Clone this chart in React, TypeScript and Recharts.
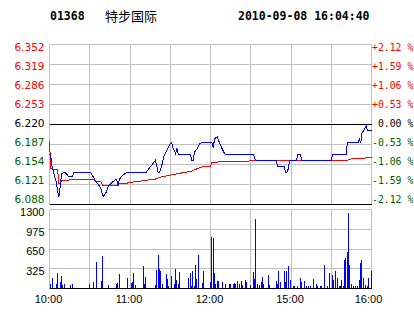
import React from "react";
import { ComposedChart, Line, Bar, XAxis, YAxis, CartesianGrid, ReferenceLine } from "recharts";

// time axis: minutes after 10:00 (lunch break 12:30-14:30 removed)
const TIME_TICKS = [0, 30, 60, 90, 120, 150, 180, 210, 240];
const TIME_LABELS = ["10:00", "", "11:00", "", "12:00", "", "15:00", "", "16:00"];

const PREV_CLOSE = 6.22;
const PRICE_TICKS = [6.088, 6.121, 6.154, 6.187, 6.22, 6.253, 6.286, 6.319, 6.352];
const PCT_LABELS = ["-2.12 %", "-1.59 %", "-1.06 %", "-0.53 %", "\u00a00.00 %", "+0.53 %", "+1.06 %", "+1.59 %", "+2.12 %"];
const VOL_TICKS = [0, 325, 650, 975, 1300];

const PRICE_MIN = [0, 1, 2, 3, 4, 5, 6, 7, 8, 9, 10, 12, 14, 17, 18, 31, 34, 36, 38, 40, 42, 44, 47, 49, 50, 51, 52, 53, 55, 58, 72, 79, 81, 82, 84, 85, 88, 90, 91, 92, 94, 95, 96, 105, 106, 107, 108, 110, 112, 113, 121, 122, 123, 125, 126, 128, 130, 131, 152, 153, 154, 169, 170, 175, 176, 177, 178, 179, 184, 185, 187, 188, 210, 211, 221, 222, 230, 231, 232, 233, 234, 235, 236, 237, 240];
const PRICE_VAL = [6.172, 6.166, 6.150, 6.141, 6.133, 6.125, 6.111, 6.101, 6.119, 6.139, 6.140, 6.140, 6.135, 6.134, 6.140, 6.140, 6.128, 6.122, 6.116, 6.101, 6.107, 6.119, 6.125, 6.129, 6.130, 6.119, 6.128, 6.133, 6.137, 6.141, 6.141, 6.161, 6.141, 6.141, 6.155, 6.166, 6.180, 6.188, 6.190, 6.182, 6.172, 6.180, 6.171, 6.171, 6.161, 6.161, 6.174, 6.180, 6.188, 6.190, 6.190, 6.181, 6.196, 6.200, 6.194, 6.183, 6.174, 6.171, 6.171, 6.163, 6.161, 6.161, 6.151, 6.151, 6.141, 6.141, 6.147, 6.161, 6.161, 6.170, 6.170, 6.161, 6.161, 6.170, 6.170, 6.190, 6.190, 6.196, 6.190, 6.207, 6.209, 6.213, 6.218, 6.210, 6.210];

const AVG_MIN = [0, 1, 4, 6, 7, 8, 9, 17, 33, 34, 38, 40, 51, 52, 57, 62, 72, 79, 82, 89, 96, 106, 110, 114, 120, 121, 124, 152, 221, 224, 232, 240];
const AVG_VAL = [6.192, 6.147, 6.146, 6.146, 6.122, 6.122, 6.127, 6.129, 6.129, 6.127, 6.126, 6.119, 6.119, 6.122, 6.123, 6.125, 6.128, 6.130, 6.133, 6.136, 6.139, 6.143, 6.147, 6.150, 6.151, 6.157, 6.158, 6.160, 6.160, 6.163, 6.164, 6.166];

const VOL_MIN = [1, 2, 5, 6, 8, 9, 10, 11, 16, 17, 30, 33, 35, 39, 40, 44, 50, 51, 52, 58, 61, 62, 63, 64, 70, 71, 72, 79, 80, 81, 82, 83, 84, 87, 88, 89, 91, 93, 94, 95, 96, 97, 104, 105, 106, 107, 108, 109, 110, 111, 114, 115, 120, 121, 122, 123, 124, 125, 126, 129, 131, 134, 135, 137, 138, 139, 140, 142, 143, 144, 146, 147, 150, 152, 153, 154, 155, 157, 158, 159, 160, 163, 164, 169, 170, 171, 172, 175, 176, 177, 178, 180, 182, 183, 185, 187, 188, 190, 192, 193, 195, 197, 199, 200, 202, 203, 205, 207, 209, 211, 212, 213, 215, 216, 217, 218, 219, 220, 221, 222, 223, 224, 225, 227, 228, 230, 231, 232, 233, 234, 236, 237, 238, 240];
const VOL_VAL = [66, 165, 66, 247, 110, 202, 55, 66, 55, 66, 66, 104, 438, 120, 532, 55, 71, 92, 235, 181, 92, 110, 247, 55, 367, 71, 191, 55, 301, 548, 329, 285, 66, 235, 153, 38, 202, 66, 329, 137, 71, 268, 170, 257, 38, 285, 38, 384, 153, 548, 92, 285, 110, 849, 833, 247, 82, 120, 120, 110, 66, 71, 71, 71, 92, 82, 120, 71, 120, 55, 137, 110, 55, 274, 153, 1140, 82, 55, 110, 191, 82, 219, 55, 120, 71, 285, 110, 285, 110, 285, 367, 137, 38, 38, 38, 181, 110, 120, 38, 38, 38, 153, 82, 38, 38, 38, 384, 38, 257, 219, 137, 285, 170, 38, 38, 137, 38, 466, 510, 602, 1245, 384, 71, 38, 38, 38, 137, 422, 466, 181, 55, 38, 170, 285];

const priceData = PRICE_MIN.map((m, i) => ({ m, p: PRICE_VAL[i] }));
const avgData = AVG_MIN.map((m, i) => ({ m, a: AVG_VAL[i] }));
const volData = VOL_MIN.map((m, i) => ({ m, v: VOL_VAL[i] }));

const RED = "#ff0000";
const GREEN = "#006000";
const BLUE = "#0000ff";
const GRID = "#c0c0c0";

const tone = (v: number) => (v > PREV_CLOSE + 1e-6 ? RED : v < PREV_CLOSE - 1e-6 ? GREEN : "#000");

// label rows sit a little below the grid lines at the top, on them at the bottom
const labelY = (y: number) => 47 + (y - 44.5) * 0.954;

const nearest = (v: number) => {
  let k = 0;
  PRICE_TICKS.forEach((t, i) => { if (Math.abs(t - v) < Math.abs(PRICE_TICKS[k] - v)) k = i; });
  return k;
};

const NoTick = () => null;

const PriceTick = ({ x, y, payload }: any) => (
  <text x={x} y={labelY(y)} dy="0.36em" textAnchor="end"
    fill={tone(payload.value)} fontSize={10.5} fontFamily="DejaVu Sans">
    {Number(payload.value).toFixed(3)}
  </text>
);

const PctTick = ({ x, y, payload }: any) => (
  <text x={x} y={labelY(y)} dy="0.36em" textAnchor="start"
    fill={tone(payload.value)} fontSize={9.8} fontFamily="DejaVu Sans Mono">
    {PCT_LABELS[nearest(Number(payload.value))]}
  </text>
);

const VolTick = ({ x, y, payload }: any) =>
  payload.value === 0 ? null : (
    <text x={x} y={y + 2.5} dy="0.36em" textAnchor="end" fill="#000" fontSize={11} fontFamily="Liberation Sans">
      {payload.value}
    </text>
  );

const TimeTick = ({ x, y, payload }: any) => {
  const label = TIME_LABELS[TIME_TICKS.indexOf(payload.value)];
  if (!label) return null;
  return (
    <text x={payload.value === 240 ? x - 3 : x - 1} y={y + 14} textAnchor="middle" fill="#000" fontSize={11} fontFamily="Liberation Sans">
      {label}
    </text>
  );
};

const head = { position: "absolute" as const, top: 10, lineHeight: "13px", color: "#000" };

export default function App() {
  return (
    <div style={{ position: "absolute", left: 0, top: 0, width: 414, height: 314, background: "#fff", shapeRendering: "crispEdges", overflow: "hidden" }}>
      <div style={{ ...head, left: 50, fontFamily: "DejaVu Sans Mono", fontWeight: 700, fontSize: 11.5 }}>01368</div>
      <div style={{ ...head, left: 105, top: 9, fontFamily: "Noto Sans CJK SC", fontSize: 13 }}>特步国际</div>
      <div style={{ ...head, left: 238, fontFamily: "DejaVu Sans Mono", fontWeight: 700, fontSize: 11.5 }}>2010-09-08 16:04:40</div>

      <div style={{ position: "absolute", left: 0, top: 0 }}>
        <ComposedChart width={414} height={206} data={priceData} margin={{ top: 44.5, right: 0, left: 0, bottom: 0.5 }}>
          <CartesianGrid stroke={GRID} />
          <XAxis type="number" dataKey="m" domain={[0, 240]} ticks={TIME_TICKS} interval={0} height={1}
            tick={<NoTick />} axisLine={false} tickLine={false} />
          <YAxis domain={[6.088, 6.352]} ticks={PRICE_TICKS} interval={0} width={49.5}
            axisLine={false} tickLine={false} tickSize={0} tickMargin={5} tick={<PriceTick />} />
          <YAxis yAxisId="r" orientation="right" domain={[6.088, 6.352]} ticks={PRICE_TICKS} interval={0} width={42.5}
            axisLine={false} tickLine={false} tickSize={0} tickMargin={0.5} tick={<PctTick />} />
          <ReferenceLine y={PREV_CLOSE} stroke="#000" />
          <ReferenceLine y={6.088} stroke="#000" />
          <Line yAxisId="r" data={avgData} dataKey="a" type="linear" stroke={RED} strokeWidth={1} dot={false} activeDot={false} isAnimationActive={false} />
          <Line dataKey="p" type="linear" stroke={BLUE} strokeWidth={1} dot={false} activeDot={false} isAnimationActive={false} />
        </ComposedChart>
      </div>

      <div style={{ position: "absolute", left: 0, top: 205 }}>
        <ComposedChart width={414} height={109} data={volData} margin={{ top: 4.5, right: 42.5, left: 0, bottom: 5.5 }}>
          <CartesianGrid stroke={GRID} />
          <XAxis type="number" dataKey="m" domain={[0, 240]} ticks={TIME_TICKS} interval={0} height={20}
            axisLine={false} tickLine={false} tickSize={0} tickMargin={0} tick={<TimeTick />} />
          <YAxis domain={[0, 1300]} ticks={VOL_TICKS} interval={0} width={49.5}
            axisLine={false} tickLine={false} tickSize={0} tickMargin={5} tick={<VolTick />} />
          <ReferenceLine y={0} stroke="#000" />
          <Bar dataKey="v" fill={BLUE} barSize={1} isAnimationActive={false} />
        </ComposedChart>
      </div>
    </div>
  );
}
